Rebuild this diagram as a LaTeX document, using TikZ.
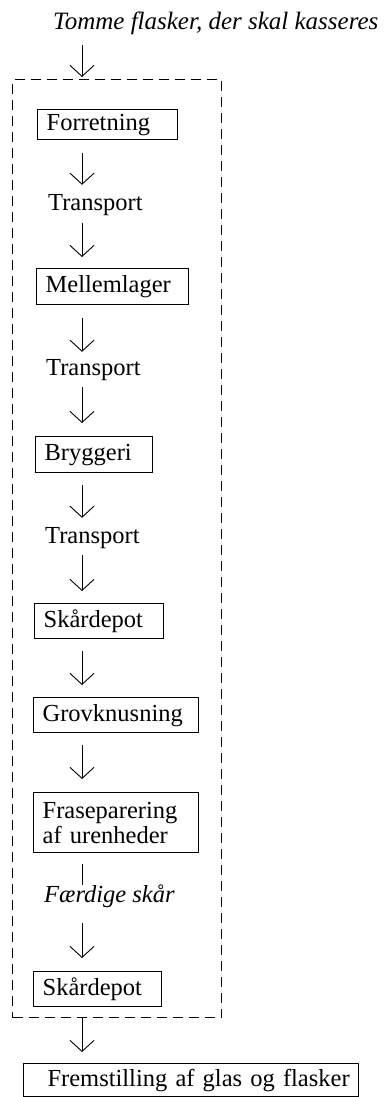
\documentclass[tikz,border=0pt]{standalone}
\usepackage{fontspec}
\setmainfont{Liberation Serif}
\usetikzlibrary{arrows.meta}
\begin{document}
\begin{tikzpicture}[x=1pt,y=-1pt,
  every node/.style={font=\fontsize{24.5}{25}\selectfont},
  stepbox/.style={draw, line width=1.3pt, anchor=north west, inner xsep=9pt, inner ysep=0pt, align=left},
  steptext/.style={anchor=base west, inner sep=0pt, text height=17pt, text depth=5pt},
  groupframe/.style={draw, dash pattern=on 10pt off 6pt, line width=1.3pt, anchor=north west, inner sep=0pt},
  flow/.style={line width=0.9pt, -{Straight Barb[length=11pt,width=24pt]}},
  stem/.style={line width=0.9pt}]
\useasboundingbox (0,0) rectangle (386,1097);

% guide for the vertical flow line
\coordinate (ax) at (82,0);

% title and the dashed frame around the collection chain
\node[steptext, font=\fontsize{25}{26}\selectfont] (title) at (53,30) {\itshape Tomme flasker, der skal kasseres};
\node[groupframe, minimum width=209pt, minimum height=938pt] (frame) at (12,79) {};

% steps
\node[stepbox, text width=122pt, minimum height=30pt] (forretning) at (37,109) {Forretning};
\node[steptext] (transport1) at (48,210) {Transport};
\node[stepbox, text width=134pt, minimum height=36pt] (mellemlager) at (36,268) {Mellemlager};
\node[steptext] (transport2) at (46,375) {Transport};
\node[stepbox, text width=99pt, minimum height=36pt] (bryggeri) at (35,436) {Bryggeri};
\node[steptext] (transport3) at (45,543) {Transport};
\node[stepbox, text width=111pt, minimum height=35pt] (skaardepotA) at (34,603) {Skårdepot};
\node[stepbox, text width=147pt, minimum height=35pt] (grovknusning) at (33,697) {Grovknusning};
\node[stepbox, text width=147pt, minimum height=60pt] (fraseparering) at (33,792) {Fraseparering\\af urenheder};
\node[steptext] (faerdige) at (44,902) {\itshape Færdige skår};
\node[stepbox, text width=110pt, minimum height=35pt] (skaardepotB) at (33,971) {Skårdepot};
\node[stepbox, text width=317pt, minimum height=33pt, align=right] (fremstilling) at (23,1063) {Fremstilling af glas og flasker};

% connectors
\draw[flow, shorten <=10pt, shorten >=2pt] (title.south -| ax) -- (frame.north -| ax);
\draw[flow, shorten <=13pt, shorten >=8pt] (forretning.south -| ax) -- (transport1.north -| ax);
\draw[flow, shorten <=8pt, shorten >=11pt] (transport1.south -| ax) -- (mellemlager.north -| ax);
\draw[flow, shorten <=13pt, shorten >=6pt] (mellemlager.south -| ax) -- (transport2.north -| ax);
\draw[flow, shorten <=7pt, shorten >=13pt] (transport2.south -| ax) -- (bryggeri.north -| ax);
\draw[flow, shorten <=12pt, shorten >=8pt] (bryggeri.south -| ax) -- (transport3.north -| ax);
\draw[flow, shorten <=7pt, shorten >=12pt] (transport3.south -| ax) -- (skaardepotA.north -| ax);
\draw[flow, shorten <=12pt, shorten >=12pt] (skaardepotA.south -| ax) -- (grovknusning.north -| ax);
\draw[flow, shorten <=12pt, shorten >=13pt] (grovknusning.south -| ax) -- (fraseparering.north -| ax);
\draw[stem, shorten <=11pt] (fraseparering.south -| ax) -- (faerdige.north -| ax);
\draw[flow, shorten <=16pt, shorten >=13pt] (faerdige.south -| ax) -- (skaardepotB.north -| ax);
\draw[flow, shorten >=11pt] (frame.south -| ax) -- (fremstilling.north -| ax);
\end{tikzpicture}
\end{document}
